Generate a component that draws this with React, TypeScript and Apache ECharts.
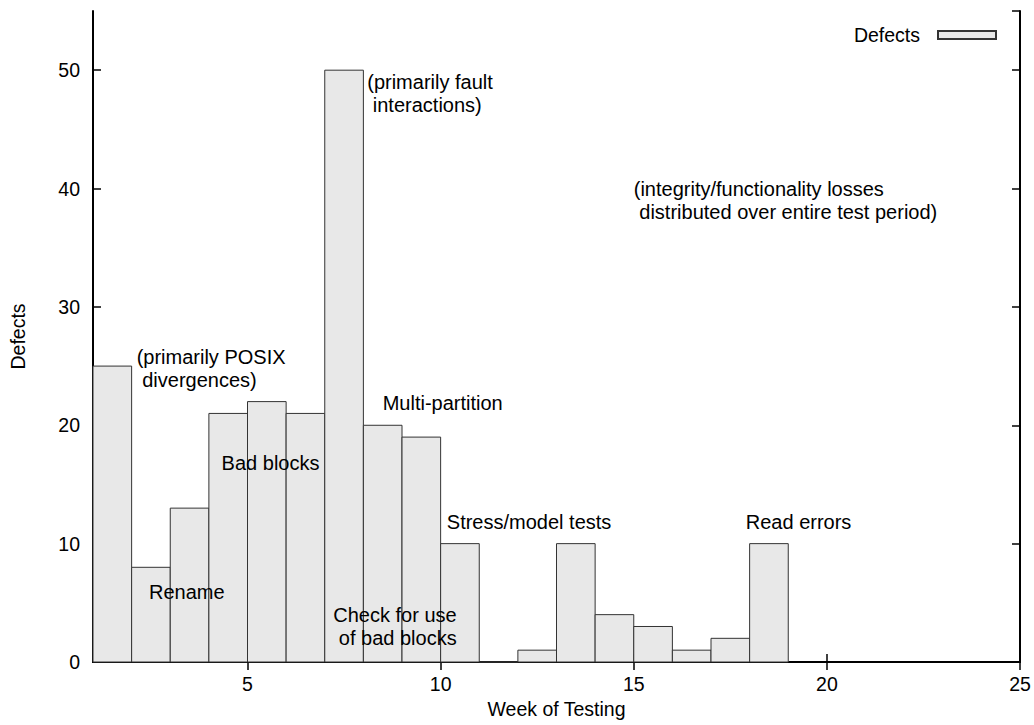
import React, { useEffect, useRef } from "react";
import * as echarts from "echarts";

const weeks = [1, 2, 3, 4, 5, 6, 7, 8, 9, 10, 11, 12, 13, 14, 15, 16, 17, 18];
const defects = [25, 8, 13, 21, 22, 21, 50, 20, 19, 10, 0, 1, 10, 4, 3, 1, 2, 10];
const xTicks = [5, 10, 15, 20, 25];
const seriesName = "Defects";
const xTitle = "Week of Testing";
const yTitle = "Defects";

const annotations = [
  { x: 2.13, y: 25.8, text: "(primarily POSIX\n divergences)" },
  { x: 8.1, y: 49, text: "(primarily fault\n interactions)" },
  { x: 15.0, y: 40, text: "(integrity/functionality losses\n distributed over entire test period)" },
  { x: 8.5, y: 21.9, text: "Multi-partition" },
  { x: 4.33, y: 16.8, text: "Bad blocks" },
  { x: 10.16, y: 11.85, text: "Stress/model tests" },
  { x: 17.9, y: 11.85, text: "Read errors" },
  { x: 2.45, y: 5.92, text: "Rename" },
  { x: 7.22, y: 4.0, text: "Check for use\n of bad blocks" },
];

const FONT = "'Liberation Sans', Arial, Helvetica, sans-serif";
const FS = 19.5;
const AFS = 20;
const LH = 23;

export default function App() {
  const ref = useRef<HTMLDivElement>(null);
  useEffect(() => {
    if (!ref.current) return;
    const chart = echarts.init(ref.current, null, { renderer: "svg" });
    const data = weeks.map((w, i) => [w, defects[i]]);
    const axisLine = { show: true, lineStyle: { color: "#000", width: 2 } };
    const tick = { show: true, inside: true, length: 8, lineStyle: { color: "#000", width: 1.5 } };
    chart.setOption({
      animation: false,
      backgroundColor: "#fff",
      textStyle: { fontFamily: FONT },
      grid: { left: 91, right: 14, top: 11, bottom: 63, containLabel: false },
      legend: {
        show: true,
        right: 32,
        top: 20,
        align: "right",
        itemWidth: 58,
        itemHeight: 8,
        data: [{ name: seriesName, icon: "rect" }],
        textStyle: { fontSize: FS, color: "#000", fontFamily: FONT, padding: [0, 13, 0, 0] },
      },
      xAxis: [
        {
          type: "value",
          min: 1,
          max: 25,
          name: xTitle,
          nameLocation: "middle",
          nameGap: 35,
          nameTextStyle: { fontSize: FS, color: "#000", fontFamily: FONT },
          axisLine,
          axisTick: { ...tick, customValues: xTicks },
          axisLabel: { customValues: xTicks, fontSize: FS, color: "#000", margin: 12, fontFamily: FONT },
          splitLine: { show: false },
        },
        {
          type: "value",
          position: "top",
          min: 1,
          max: 25,
          axisLine,
          axisTick: { ...tick, customValues: xTicks },
          axisLabel: { show: false, customValues: xTicks },
          splitLine: { show: false },
        },
      ],
      yAxis: [
        {
          type: "value",
          min: 0,
          max: 55,
          interval: 10,
          name: yTitle,
          nameLocation: "middle",
          nameGap: 65,
          nameTextStyle: { fontSize: FS, color: "#000", fontFamily: FONT },
          axisLine,
          axisTick: tick,
          axisLabel: { fontSize: FS, color: "#000", margin: 13, fontFamily: FONT, showMaxLabel: false },
          splitLine: { show: false },
        },
        {
          type: "value",
          position: "right",
          min: 0,
          max: 55,
          interval: 10,
          axisLine,
          axisTick: tick,
          axisLabel: { show: false },
          splitLine: { show: false },
        },
      ],
      series: [
        {
          name: seriesName,
          type: "custom",
          xAxisIndex: 0,
          yAxisIndex: 0,
          itemStyle: { color: "#e8e8e8", borderColor: "#333", borderWidth: 1 },
          encode: { x: 0, y: 1 },
          data,
          renderItem: (params: any, api: any) => {
            const x = api.value(0);
            const v = api.value(1);
            const p1 = api.coord([x, v]);
            const p2 = api.coord([x + 1, 0]);
            return {
              type: "rect",
              shape: { x: p1[0], y: p1[1], width: p2[0] - p1[0], height: p2[1] - p1[1] },
              style: { fill: "#e8e8e8", stroke: "#333", lineWidth: 1 },
            };
          },
        },
      ],
    });
    const graphic = annotations.map((a) => {
      const p = chart.convertToPixel({ gridIndex: 0 }, [a.x, a.y]) as number[];
      return {
        type: "text",
        x: p[0],
        y: p[1] - LH / 2,
        z: 100,
        style: {
          text: a.text,
          fill: "#000",
          fontSize: AFS,
          fontFamily: FONT,
          lineHeight: LH,
          align: "left",
          verticalAlign: "top",
        },
      };
    });
    chart.setOption({ graphic });
    return () => chart.dispose();
  }, []);
  return (
    <div
      ref={ref}
      style={{ position: "fixed", left: 0, top: 0, width: 1034, height: 725, background: "#fff" }}
    />
  );
}
